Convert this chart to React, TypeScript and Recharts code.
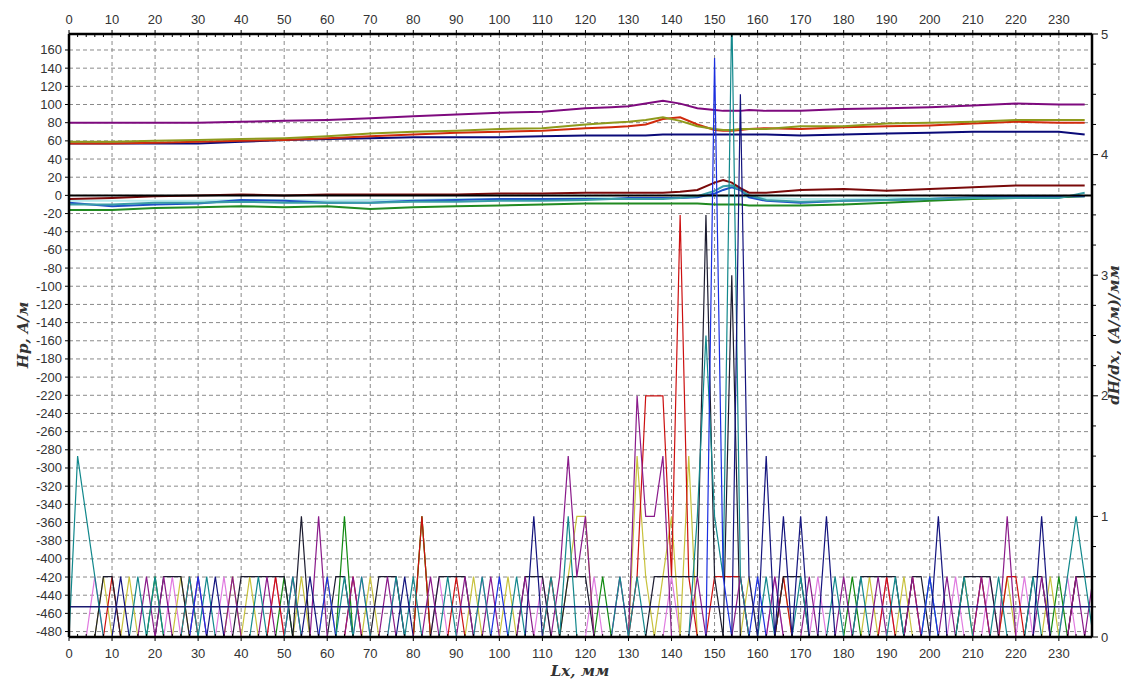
import React from 'react';
import { ComposedChart, Line, XAxis, YAxis, CartesianGrid, ReferenceLine } from 'recharts';

// --- axis ticks ---
const xMajorTicks = [0, 10, 20, 30, 40, 50, 60, 70, 80, 90, 100, 110, 120, 130, 140, 150, 160, 170, 180, 190, 200, 210, 220, 230];
const hpTicks = [160, 140, 120, 100, 80, 60, 40, 20, 0, -20, -40, -60, -80, -100, -120, -140, -160, -180, -200, -220, -240, -260, -280, -300, -320, -340, -360, -380, -400, -420, -440, -460, -480];

const X_MAX = 237.7;
const HP_DOMAIN: [number, number] = [-486, 177.6];

// --- Hp, A/м (left axis) ---
const hpX = [0, 10, 20, 30, 40, 50, 60, 70, 80, 90, 100, 110, 120, 126, 130, 134, 138, 142, 146, 150, 152, 154, 156, 158, 162, 170, 180, 190, 200, 210, 220, 230, 236];
const hpPurple = [80, 80, 80, 80, 81, 82, 83, 85, 87, 89, 91, 92, 96, 97, 98, 101, 104, 101, 96, 94, 93, 93, 93, 94, 93, 93, 95, 96, 97, 99, 101, 100, 100];
const hpOlive = [59, 59, 60, 61, 62, 63, 65, 68, 70, 71, 73, 74, 78, 80, 81, 83, 86, 82, 76, 73, 72, 72, 73, 73, 73, 76, 76, 79, 80, 81, 83, 83, 83];
const hpRed = [57, 57, 58, 59, 60, 61, 63, 65, 67, 69, 70, 71, 74, 75, 76, 78, 84, 86, 78, 72, 71, 71, 72, 73, 74, 73, 75, 76, 77, 79, 81, 80, 80];
const hpNavy = [57, 57, 57, 57, 59, 61, 62, 63, 64, 64, 64, 65, 66, 66, 66, 66, 67, 67, 67, 67, 67, 67, 67, 67, 67, 66, 67, 68, 69, 70, 70, 70, 67];
const hpBrown = [-4, -3, -1, 0, 1, 0, 1, 1, 1, 1, 2, 2, 3, 3, 3, 3, 3, 4, 6, 14, 17, 14, 8, 3, 3, 6, 7, 5, 7, 9, 11, 11, 11];
const hpTeal = [-10, -10, -8, -8, -7, -8, -8, -8, -7, -7, -6, -6, -5, -4, -4, -4, -4, -3, -1, 5, 10, 11, 6, 0, -5, -7, -6, -5, -4, -3, -3, -3, 3];
const hpBlue = [-8, -12, -10, -9, -5, -6, -8, -8, -6, -5, -4, -4, -4, -4, -3, -3, -3, -3, -2, 2, 6, 9, 6, -2, -6, -8, -6, -5, -4, -2, -1, -1, -1];
const hpGreen = [-16, -16, -14, -13, -12, -13, -12, -15, -13, -12, -11, -10, -9, -9, -9, -9, -9, -9, -9, -10, -10, -10, -10, -11, -11, -11, -10, -8, -6, -4, -3, -2, -1];
const hpCyan = [-6, -6, -6, -6, -5, -5, -6, -5, -5, -4, -4, -4, -3, -3, -3, -3, -3, -2, -1, -1, -1, -1, -1, -2, -3, -4, -4, -3, -3, -2, -2, -1, -1];

// --- dH/dx, (A/м)/мм (right axis), one value per 2 mm, x = 0..238 ---
const dhTeal = [
  0, 1.5, 1, 0.5, 0, 0, 0, 0, 0.5, 0,
  0.5, 0, 0, 0, 0.5, 0, 0.5, 0, 0, 0,
  0, 0, 0.5, 0, 0, 0, 0.5, 0, 0, 0,
  0, 0, 0.5, 0, 0.5, 0, 0, 0, 0.5, 0,
  0.5, 0, 0, 0, 0.5, 0, 0, 0, 0.5, 0,
  0, 0, 0.5, 0, 0, 0, 0.5, 0, 1, 0,
  0, 0, 0, 0, 0.5, 0, 0.5, 0, 0, 0,
  0, 0, 0, 1, 2.5, 1, 0.5, 5.2, 0.5, 0,
  0, 0.5, 0, 0, 0, 0.5, 0, 0, 0, 0.5,
  0, 0, 0.5, 0, 0, 0, 0.5, 0, 0, 0,
  0.5, 0, 0, 0, 0.5, 0, 0, 0, 0.5, 0,
  0, 0, 0.5, 0, 0, 0, 0.5, 1, 0.5, 0,
];
const dhPurple = [
  0, 0, 0, 0, 0, 0, 0, 0, 0, 0.5,
  0, 0.5, 0, 0, 0, 0.5, 0, 0, 0, 0.5,
  0, 0, 0, 0.5, 0, 0, 0.5, 0, 0, 1,
  0, 0, 0, 0.5, 0, 0, 0, 0.5, 0, 0,
  0, 0, 0.5, 0, 0, 0, 0.5, 0, 0, 0.5,
  0, 0, 0, 0.5, 0, 0, 0, 0.5, 1.5, 0.5,
  1, 0, 0, 0, 0.5, 0, 2, 1, 1, 1.5,
  0, 0, 0, 0.5, 0, 0, 0, 0, 0.5, 0,
  0, 0, 0.5, 0, 0, 0, 0.5, 0, 0, 0,
  0.5, 0, 0, 0, 0.5, 0, 0, 0, 0.5, 0,
  0, 0, 0.5, 0, 0, 0, 0.5, 0, 0, 1,
  0, 0, 0, 0.5, 0, 0, 0, 0.5, 0, 0.5,
];
const dhOlive = [
  0, 0, 0, 0, 0.5, 0, 0, 0.5, 0, 0,
  0, 0, 0, 0.5, 0, 0, 0, 0, 0, 0.5,
  0, 0.5, 0, 0, 0, 0, 0, 0.5, 0, 0,
  0.5, 0, 0, 0, 0, 0.5, 0, 0, 0, 0,
  0, 1, 0, 0, 0, 0, 0, 0.5, 0, 0,
  0, 0.5, 0, 0, 0, 0, 0, 0, 0.5, 1,
  1, 0, 0, 0, 0, 0, 1.5, 0.5, 0, 0.5,
  1, 0, 1.5, 0, 0, 0, 0, 0, 0, 0.5,
  0, 0, 0, 0.5, 0, 0, 0, 0, 0, 0,
  0, 0, 0, 0.5, 0, 0, 0, 0.5, 0, 0,
  0, 0, 0, 0, 0.5, 0, 0, 0, 0, 0.5,
  0, 0, 0, 0, 0.5, 0, 0, 0, 0, 0,
];
const dhRed = [
  0, 0, 0, 0, 0, 0.5, 0, 0, 0, 0,
  0, 0, 0, 0, 0.5, 0, 0, 0, 0, 0,
  0, 0, 0, 0, 0.5, 0, 0, 0, 0, 0,
  0, 0, 0, 0.5, 0, 0, 0, 0, 0, 0,
  0, 1, 0, 0, 0, 0.5, 0, 0, 0, 0,
  0, 0, 0, 0, 0, 0, 0.5, 0, 0, 0,
  0, 0, 0, 0, 0, 0, 0.5, 2, 2, 2,
  0.5, 3.5, 0.5, 0, 0, 0.5, 0.5, 0.5, 0.5, 0,
  0, 0, 0, 0.5, 0, 0, 0, 0, 0, 0,
  0, 0, 0, 0, 0, 0.5, 0, 0, 0.5, 0,
  0, 0, 0, 0, 0, 0, 0.5, 0, 0, 0.5,
  0.5, 0, 0, 0, 0, 0, 0, 0.5, 0.5, 0.5,
];
const dhBlack = [
  0, 0, 0, 0, 0.5, 0.5, 0, 0, 0, 0,
  0, 0.5, 0.5, 0.5, 0, 0, 0, 0, 0, 0,
  0.5, 0.5, 0.5, 0.5, 0.5, 0.5, 0, 1, 0, 0,
  0, 0.5, 0.5, 0, 0, 0, 0.5, 0.5, 0.5, 0,
  0, 0, 0, 0.5, 0.5, 0.5, 0.5, 0, 0, 0,
  0, 0, 0, 0.5, 0.5, 0.5, 0, 0, 0.5, 0.5,
  0.5, 0, 0, 0, 0, 0, 0, 0, 0.5, 0.5,
  0.5, 0.5, 0.5, 0.5, 3.5, 0.5, 0, 3, 0, 0,
  0, 0, 0, 0.5, 0.5, 0.5, 0, 0, 0, 0,
  0, 0, 0.5, 0.5, 0.5, 0.5, 0.5, 0, 0.5, 0.5,
  0, 0, 0, 0, 0.5, 0.5, 0.5, 0.5, 0, 0,
  0, 0, 0.5, 0.5, 0, 0, 0, 0.5, 0.5, 0.5,
];
const dhNavy = [
  0, 0, 0, 0, 0, 0, 0.5, 0, 0, 0,
  0, 0, 0, 0, 0, 0, 0, 0.5, 0, 0,
  0, 0, 0, 0, 0, 0, 0, 0, 0.5, 0,
  0, 0, 0, 0, 0, 0, 0, 0, 0, 0.5,
  0, 0, 0, 0, 0, 0, 0, 0, 0, 0,
  0, 0, 0, 0, 1, 0, 0, 0, 0, 0,
  0, 0, 0, 0, 0, 0, 0, 0, 0, 0,
  0, 0, 0, 0, 0, 0, 0, 0, 4.5, 0.5,
  0, 1.5, 0, 1, 0, 1, 0, 0, 1, 0,
  0, 0, 0, 0, 0, 0, 0, 0, 0, 0,
  0, 1, 0, 0, 0, 0, 0, 0, 0, 0,
  0, 0, 0, 1, 0, 0, 0, 0, 0, 0,
];
const dhBlue = [
  0, 0, 0, 0, 0, 0, 0, 0, 0, 0,
  0, 0, 0, 0, 0, 0.5, 0, 0, 0, 0,
  0, 0, 0, 0, 0, 0, 0, 0, 0, 0,
  0.5, 0, 0, 0, 0, 0, 0, 0, 0, 0,
  0, 0, 0, 0, 0, 0, 0, 0, 0, 0,
  0.5, 0, 0, 0, 0, 0, 0, 0, 0, 0,
  0, 0, 0, 0, 0, 0, 0, 0, 0, 0,
  0, 0, 0, 0, 0, 4.8, 0.5, 0, 0, 0,
  0.5, 0, 0, 0, 0, 0, 0, 0, 0, 0,
  0, 0, 0, 0, 0, 0, 0, 0, 0, 0,
  0.5, 0, 0, 0, 0, 0, 0, 0, 0, 0,
  0, 0, 0, 0, 0, 0, 0, 0, 0, 0,
];
const dhGreen = [
  0, 0, 0, 0, 0, 0, 0, 0, 0, 0,
  0.5, 0, 0, 0, 0, 0, 0, 0, 0, 0,
  0, 0, 0, 0, 0, 0.5, 0, 0, 0, 0,
  0, 0, 1, 0, 0, 0, 0, 0, 0, 0,
  0, 1, 0, 0, 0, 0, 0, 0, 0, 0,
  0, 0, 0, 0, 0, 0, 0, 0, 0, 0,
  0, 0, 0.5, 0, 0, 0, 0, 0, 0, 0,
  0, 0, 0, 0, 0, 0, 0, 0, 0, 0,
  0, 0, 0, 0, 0, 0, 0, 0, 0, 0,
  0, 0.5, 0, 0, 0, 0, 0, 0, 0, 0,
  0, 0, 0, 0, 0, 0, 0, 0, 0, 0,
  0, 0, 0, 0, 0, 0.5, 0, 0, 0, 0,
];
const dhPink = [
  0, 0, 0, 0.5, 0, 0, 0, 0, 0, 0,
  0, 0, 0.5, 0, 0, 0, 0, 0, 0.5, 0,
  0, 0, 0, 0, 0.5, 0, 0, 0, 0, 0,
  0, 0, 0, 0, 0.5, 0, 0, 0, 0.5, 0,
  0, 0, 0, 0.5, 0, 0, 0, 0, 0.5, 0,
  0, 0, 0, 0, 0, 0.5, 0, 0, 0, 0,
  0, 0.5, 0, 0, 0, 0, 0, 0, 0, 0,
  0.5, 0, 0, 0, 0, 0, 0, 0, 0, 0,
  0, 0, 0.5, 0, 0, 0, 0, 0.5, 0, 0,
  0, 0, 0, 0, 0, 0.5, 0, 0, 0, 0,
  0, 0, 0, 0.5, 0, 0, 0, 0.5, 0, 0,
  0, 0.5, 0, 0, 0, 0, 0.5, 0, 0, 0,
];

const hpSeries = [
  { key: 'cyan', values: hpCyan, color: '#b4ecec' },
  { key: 'green', values: hpGreen, color: '#218a21' },
  { key: 'blue', values: hpBlue, color: '#1e50c8' },
  { key: 'teal', values: hpTeal, color: '#3a9ea6' },
  { key: 'brown', values: hpBrown, color: '#7a0a0a' },
  { key: 'navy', values: hpNavy, color: '#0a0a78' },
  { key: 'red', values: hpRed, color: '#d02a0c' },
  { key: 'olive', values: hpOlive, color: '#8e9a1c' },
  { key: 'purple', values: hpPurple, color: '#7e0a7e' },
];

const dhSeries = [
  { key: 'pink', values: dhPink, color: '#e07ae0' },
  { key: 'olive', values: dhOlive, color: '#c8c23c' },
  { key: 'green', values: dhGreen, color: '#108a10' },
  { key: 'red', values: dhRed, color: '#cc1010' },
  { key: 'black', values: dhBlack, color: '#1c1c30' },
  { key: 'purple', values: dhPurple, color: '#8a1a8a' },
  { key: 'teal', values: dhTeal, color: '#12888c' },
  { key: 'blue', values: dhBlue, color: '#1a2ee0' },
  { key: 'navy', values: dhNavy, color: '#14147e' },
];

const dhX = dhTeal.map((_, i) => i * 2);
const dhRows = dhX.map((x, i) => {
  const row: Record<string, number> = { x };
  dhSeries.forEach((s) => (row[s.key] = s.values[i]));
  return row;
});

const xAllTicks = Array.from({ length: 119 }, (_, i) => i * 2);
const dhAllTicks = Array.from({ length: 21 }, (_, i) => i * 0.25);

const W = 1121;
const H = 671;
const tickFont = { fontFamily: '"Liberation Sans", Arial, sans-serif', fontSize: 13, fill: '#333' };
const titleFont = {
  fontFamily: '"DejaVu Serif", "Liberation Serif", serif',
  fontStyle: 'italic',
  fontWeight: 'bold',
  fontSize: 15,
  fill: '#333',
};

const BottomTick = (p: any) => {
  const v = p.payload.value;
  const major = v % 10 === 0;
  return (
    <g>
      <line x1={p.x} x2={p.x} y1={p.y} y2={p.y + (major ? 4 : -3)} stroke="#000" />
      {major && (
        <text x={p.x} y={p.y + 21} textAnchor="middle" {...tickFont}>
          {v}
        </text>
      )}
    </g>
  );
};

const TopTick = (p: any) => {
  const v = p.payload.value;
  const major = v % 10 === 0;
  return (
    <g>
      <line x1={p.x} x2={p.x} y1={p.y} y2={p.y + (major ? -4 : 3)} stroke="#000" />
      {major && (
        <text x={p.x} y={p.y - 10} textAnchor="middle" {...tickFont}>
          {v}
        </text>
      )}
    </g>
  );
};

const LeftTick = (p: any) => (
  <g>
    <line x1={p.x} x2={p.x - 4} y1={p.y} y2={p.y} stroke="#000" />
    <text x={p.x - 7} y={p.y + 4.5} textAnchor="end" {...tickFont}>
      {p.payload.value}
    </text>
  </g>
);

const RightTick = (p: any) => {
  const v = p.payload.value;
  const major = Number.isInteger(v);
  return (
    <g>
      <line x1={p.x} x2={p.x + (major ? 6 : 4)} y1={p.y} y2={p.y} stroke="#000" />
      {major && (
        <text x={p.x + 9} y={p.y + 4.5} textAnchor="start" {...tickFont}>
          {v}
        </text>
      )}
    </g>
  );
};

export default function App() {
  return (
    <div style={{ width: W, height: H, background: '#fff' }}>
      <style>{'html,body{overflow:hidden}'}</style>
      <ComposedChart width={W} height={H} margin={{ top: 0, right: 0, bottom: 0, left: 0 }}>
        <CartesianGrid
          xAxisId="b"
          yAxisId="left"
          stroke="#8a8a8a"
          strokeDasharray="4 3"
          verticalValues={xMajorTicks}
          horizontalValues={hpTicks}
        />
        <XAxis
          xAxisId="b"
          orientation="bottom"
          type="number"
          dataKey="x"
          domain={[0, X_MAX]}
          allowDataOverflow
          ticks={xAllTicks}
          interval={0}
          tick={(p: any) => <BottomTick {...p} />}
          tickLine={false}
          tickSize={0}
          tickMargin={0}
          axisLine={{ stroke: '#000', strokeWidth: 2.5 }}
          height={42}
        />
        <XAxis
          xAxisId="t"
          orientation="top"
          type="number"
          dataKey="x"
          domain={[0, X_MAX]}
          allowDataOverflow
          ticks={xAllTicks}
          interval={0}
          tick={(p: any) => <TopTick {...p} />}
          tickLine={false}
          tickSize={0}
          tickMargin={0}
          axisLine={{ stroke: '#000', strokeWidth: 2.5 }}
          height={26}
        />
        <YAxis
          yAxisId="left"
          orientation="left"
          type="number"
          domain={HP_DOMAIN}
          allowDataOverflow
          ticks={hpTicks}
          interval={0}
          tick={(p: any) => <LeftTick {...p} />}
          tickLine={false}
          tickSize={0}
          tickMargin={0}
          axisLine={{ stroke: '#000', strokeWidth: 2.5 }}
          width={61}
        />
        <YAxis
          yAxisId="right"
          orientation="right"
          type="number"
          domain={[0, 5]}
          allowDataOverflow
          ticks={dhAllTicks}
          interval={0}
          tick={(p: any) => <RightTick {...p} />}
          tickLine={false}
          tickSize={0}
          tickMargin={0}
          axisLine={{ stroke: '#000', strokeWidth: 2.5 }}
          width={37}
        />

        {hpSeries.map((s, si) => (
          <Line
            key={'hp-' + s.key}
            xAxisId={si === 0 ? 't' : 'b'}
            yAxisId="left"
            data={hpX.map((x, i) => ({ x, v: s.values[i] }))}
            dataKey="v"
            type="linear"
            stroke={s.color}
            strokeWidth={2}
            dot={false}
            isAnimationActive={false}
          />
        ))}

        <ReferenceLine xAxisId="b" yAxisId="left" y={0} stroke="#000" strokeWidth={2} />

        {dhSeries.map((s) => (
          <Line
            key={'dh-' + s.key}
            xAxisId="b"
            yAxisId="right"
            data={dhRows}
            dataKey={s.key}
            type="linear"
            stroke={s.color}
            strokeWidth={1.2}
            dot={false}
            isAnimationActive={false}
          />
        ))}

        <ReferenceLine xAxisId="b" yAxisId="right" y={0.25} stroke="#1a1a70" strokeWidth={1.5} />

        <text x={572} y={668} textAnchor="middle" {...titleFont}>
          Lx, мм
        </text>
        <text x={20} y={327} textAnchor="middle" transform="rotate(-90 20 327)" {...titleFont}>
          Hp, A/м
        </text>
        <text x={1111} y={327} textAnchor="middle" transform="rotate(-90 1111 327)" {...titleFont}>
          dH/dx, (A/м)/мм
        </text>
      </ComposedChart>
    </div>
  );
}
